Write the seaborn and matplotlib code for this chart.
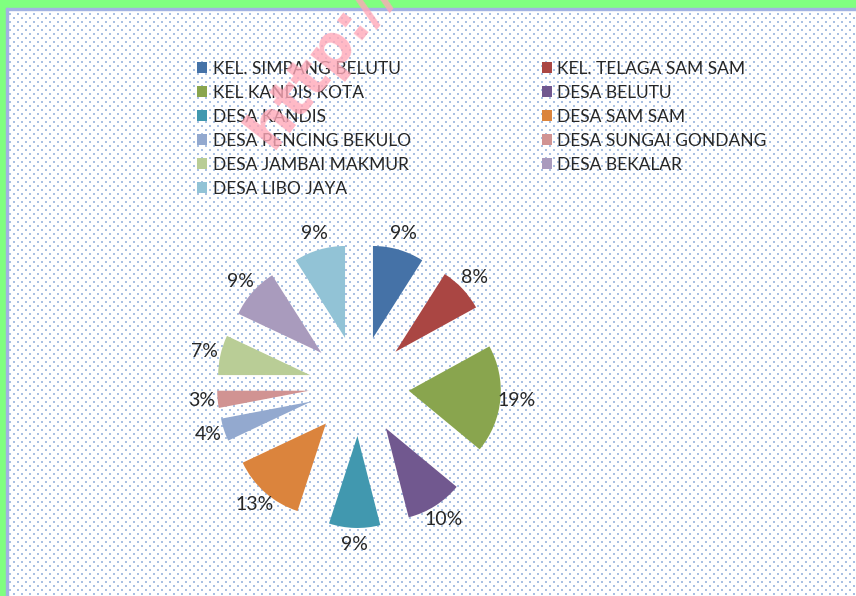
import numpy as np
import matplotlib.pyplot as plt
import seaborn as sns
from matplotlib.patches import Rectangle

# share of each village (clockwise from 12 o'clock), in percent
villages = [
    "KEL. SIMPANG BELUTU", "KEL. TELAGA SAM SAM", "KEL KANDIS KOTA",
    "DESA BELUTU", "DESA KANDIS", "DESA SAM SAM", "DESA PENCING BEKULO",
    "DESA SUNGAI GONDANG", "DESA JAMBAI MAKMUR", "DESA BEKALAR",
    "DESA LIBO JAYA",
]
shares = [9, 8, 19, 10, 9, 13, 4, 3, 7, 9, 9]
slice_colors = [
    "#4572A7", "#AA4643", "#89A54E", "#71588F", "#4198AF", "#DB843D",
    "#93A9CF", "#D19392", "#B9CD96", "#A99BBD", "#92C3D6",
]

W, H = 856, 596

sns.set_theme(style="white")
plt.rcParams["font.family"] = ["Lato", "DejaVu Sans"]

fig = plt.figure(figsize=(W / 100, H / 100), dpi=100)
ax = fig.add_axes([0, 0, 1, 1])

# dotted chart-area texture
gx, gy = np.meshgrid(np.arange(10, W, 8.0), np.arange(H - 14, 0, -4.0))
gx = gx + (np.arange(gx.shape[0])[:, None] % 2) * 4
ax.scatter(gx.ravel(), gy.ravel(), s=0.8, marker="s", linewidths=0,
           color="#A9C0E2", zorder=0)

# green frame on top / left edge
ax.add_patch(Rectangle((0, H - 8), W, 8, color="#80FF80", zorder=5))
ax.add_patch(Rectangle((0, 0), 6, H, color="#80FF80", zorder=5))
ax.add_patch(Rectangle((6, H - 10), W, 2, color="#A3B3E2", zorder=5))
ax.add_patch(Rectangle((6, 0), 2, H - 8, color="#A3B3E2", zorder=5))

palette = sns.color_palette(slice_colors)
wedges, _, autotexts = ax.pie(
    shares,
    colors=palette,
    center=(359, H - 386),
    radius=92,
    explode=[50] * len(shares),
    startangle=90,
    counterclock=False,
    autopct="%1.0f%%",
    pctdistance=1.18,
    wedgeprops=dict(linewidth=0),
    textprops=dict(fontsize=14, color="#262626"),
    frame=True,
)
ax.set_xlim(0, W)
ax.set_ylim(0, H)
ax.set_aspect("auto")
ax.axis("off")

# legend laid out row by row in two columns
order = [0, 2, 4, 6, 8, 10, 1, 3, 5, 7, 9]
ax.legend(
    [wedges[i] for i in order], [villages[i] for i in order],
    ncol=2, loc="upper left", bbox_to_anchor=(197, H - 61),
    bbox_transform=ax.transData, frameon=False, fontsize=12.5,
    handlelength=0.6, handleheight=0.6, handletextpad=0.3,
    labelspacing=0.46, columnspacing=7.55, borderpad=0, borderaxespad=0,
    labelcolor="#262626",
)

# watermark
ax.text(236, H - 146, "http://", rotation=52, fontsize=42, fontweight="bold",
        color="#FFA8B8", alpha=0.8, ha="left", va="baseline", zorder=6,
        family=["DejaVu Sans"])

fig.savefig("out.png", dpi=100)
